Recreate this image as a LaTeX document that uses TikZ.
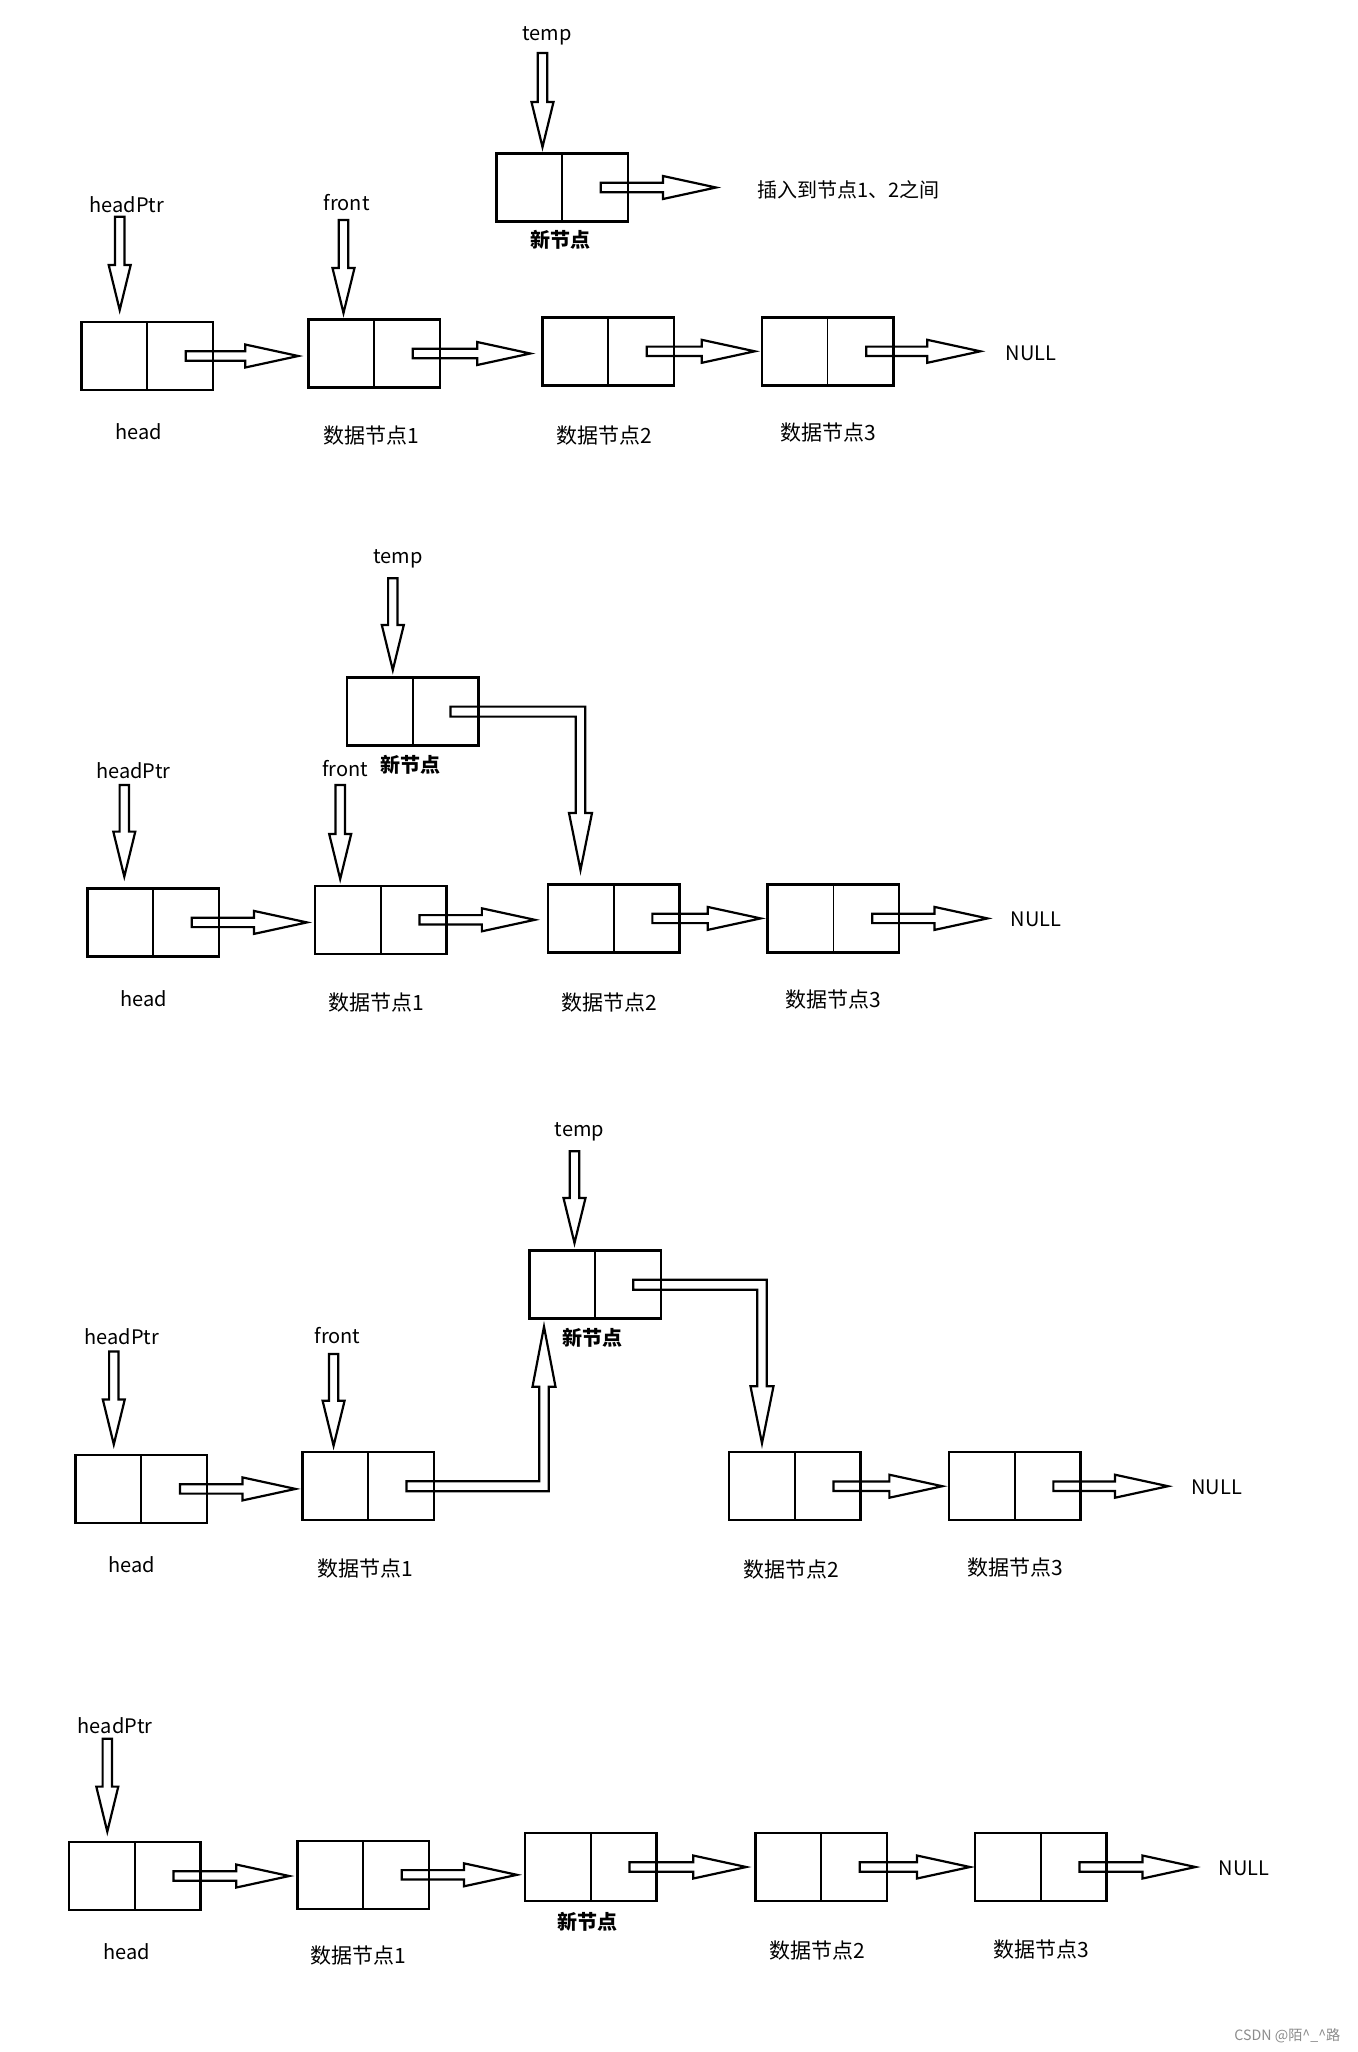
\documentclass[tikz,border=0pt]{standalone}
\usepackage{fontspec}
\setmainfont{Noto Sans CJK SC}
\usetikzlibrary{calc}
\tikzset{
  box/.style={draw, line width=1.25pt, minimum width=65.75pt, minimum height=34pt, inner sep=0pt, outer sep=0pt},
  divline/.style={line width=0.9pt},
  arrline/.style={line width=1.1pt, line join=miter},
  lbl/.style={inner sep=0pt, font=\fontsize{10}{12}\selectfont},
  dlbl/.style={inner sep=0pt, font=\fontsize{10.5}{12}\selectfont},
  blbl/.style={inner sep=0pt, font=\fontsize{10}{12}\selectfont\bfseries},
  wm/.style={inner sep=0pt, text=black!45, font=\fontsize{7.1}{8}\selectfont},
}
% horizontal hollow arrow: start, tip
\newcommand\harr[2]{\draw[arrline] ($(#1)+(0,-4.7)$) -- ($(#2)+(-53,-4.7)$) -- ($(#2)+(-53,-11.5)$) -- (#2) -- ($(#2)+(-53,11.5)$) -- ($(#2)+(-53,4.7)$) -- ($(#1)+(0,4.7)$) -- cycle;}
% downward hollow arrow: start (top), tip
\newcommand\darr[2]{\draw[arrline] ($(#1)+(-4.7,0)$) -- ($(#2)+(-4.7,-45)$) -- ($(#2)+(-11,-45)$) -- (#2) -- ($(#2)+(11,-45)$) -- ($(#2)+(4.7,-45)$) -- ($(#1)+(4.7,0)$) -- cycle;}
% right then down
\newcommand\bdarr[2]{\draw[arrline] ($(#1)+(0,-5)$) -- ($(#1 -| #2)+(4.7,-5)$) -- ($(#2)+(4.7,-57)$) -- ($(#2)+(11.5,-57)$) -- (#2) -- ($(#2)+(-11.5,-57)$) -- ($(#2)+(-4.7,-57)$) -- ($(#1 -| #2)+(-4.7,5)$) -- ($(#1)+(0,5)$) -- cycle;}
% right then up
\newcommand\buarr[2]{\draw[arrline] ($(#1)+(0,5)$) -- ($(#1 -| #2)+(4.7,5)$) -- ($(#2)+(4.7,60)$) -- ($(#2)+(11.5,60)$) -- (#2) -- ($(#2)+(-11.5,60)$) -- ($(#2)+(-4.7,60)$) -- ($(#1 -| #2)+(-4.7,-5)$) -- ($(#1)+(0,-5)$) -- cycle;}
% a two-field list cell
\newcommand\cell[2]{\node[box] (#1) at (#2) {}; \draw[divline] (#1.north) -- (#1.south);}
% link from one cell to the next node
\newcommand\link[3]{\coordinate (#1S) at ($(#1.east)+(-27,0)$);
  \coordinate (#1T) at ($(#1S -| #2.west)+(-#3,0)$);
  \harr{#1S}{#1T}}
% pointer arrow below a label
\newcommand\ptr[4]{\coordinate (#1S) at (#2,#3); \coordinate (#1T) at (#2,#4); \darr{#1S}{#1T}}

\begin{document}
\begin{tikzpicture}[x=0.5pt,y=-0.5pt]
\fill[white] (0,0) rectangle (1358,2052);
\useasboundingbox (0,0) rectangle (1358,2052);

% ---------------- panel 1 ----------------
\cell{A1h}{147,356}
\cell{A1n1}{374,353.5}
\cell{A1n2}{608,351.3}
\cell{A1n3}{827.5,351.3}
\cell{A1new}{562,187.5}
\node[lbl] (A1nul) at (1031,353) {NULL};
\node[lbl] (A1ins) at (848.5,190) {插入到节点1、2之间};
\link{A1h}{A1n1}{10}
\link{A1n1}{A1n2}{12}
\link{A1n2}{A1n3}{7}
\link{A1n3}{A1nul}{25}
\link{A1new}{A1ins}{41}
\node[lbl] (A1tmp) at (547,36) {temp};
\node[blbl] (A1newl) at (560,240) {新节点};
\node[lbl] (A1hp) at (127,205) {headPtr};
\node[lbl] (A1fr) at (346.7,203) {front};
\node[lbl] (A1hl) at (138.7,431.7) {head};
\node[dlbl] (A1l1) at (371.6,435.7) {数据节点1};
\node[dlbl] (A1l2) at (604.4,435.7) {数据节点2};
\node[dlbl] (A1l3) at (828.2,433) {数据节点3};
\ptr{A1tmp}{542.5}{53}{147}
\ptr{A1hp}{119.7}{216.7}{310}
\ptr{A1fr}{343.5}{220}{313}

% ---------------- panel 2 ----------------
\cell{B2h}{153,922.4}
\cell{B2n1}{380.7,919.8}
\cell{B2n2}{613.6,918.4}
\cell{B2n3}{833.4,918.4}
\cell{B2new}{412.8,711.6}
\node[lbl] (B2nul) at (1036.2,919.7) {NULL};
\link{B2h}{B2n1}{8}
\link{B2n1}{B2n2}{13}
\link{B2n2}{B2n3}{7}
\link{B2n3}{B2nul}{23}
\coordinate (B2newS) at ($(B2new.east)+(-28,0)$);
\coordinate (B2newT) at (580.5,870);
\bdarr{B2newS}{B2newT}
\node[lbl] (B2tmp) at (398,558.6) {temp};
\node[blbl] (B2newl) at (410.5,764.5) {新节点};
\node[lbl] (B2hp) at (133.4,770.6) {headPtr};
\node[lbl] (B2fr) at (345.2,768.5) {front};
\node[lbl] (B2hl) at (144,998.2) {head};
\node[dlbl] (B2l1) at (376.8,1002.2) {数据节点1};
\node[dlbl] (B2l2) at (609.7,1002.2) {数据节点2};
\node[dlbl] (B2l3) at (833.4,999.5) {数据节点3};
\ptr{B2tmp}{392.8}{578.3}{670}
\ptr{B2hp}{124.3}{785}{876.6}
\ptr{B2fr}{340.2}{785}{879}

% ---------------- panel 3 ----------------
\cell{C3h}{141.3,1488.9}
\cell{C3n1}{368.3,1486.2}
\cell{C3n2}{794.8,1486.2}
\cell{C3n3}{1014.6,1486.2}
\cell{C3new}{595.2,1284.7}
\node[lbl] (C3nul) at (1216.7,1487.5) {NULL};
\link{C3h}{C3n1}{7}
\link{C3n2}{C3n3}{6.5}
\link{C3n3}{C3nul}{23}
\coordinate (C3newS) at ($(C3new.east)+(-27.7,0)$);
\coordinate (C3newT) at (762,1443.3);
\bdarr{C3newS}{C3newT}
\coordinate (C3n1S) at ($(C3n1.east)+(-27.5,0)$);
\coordinate (C3n1T) at (544,1326.7);
\buarr{C3n1S}{C3n1T}
\node[lbl] (C3tmp) at (579.6,1131.7) {temp};
\node[blbl] (C3newl) at (592.5,1338) {新节点};
\node[lbl] (C3hp) at (121.7,1337) {headPtr};
\node[lbl] (C3fr) at (337.5,1335.8) {front};
\node[lbl] (C3hl) at (132.1,1564.7) {head};
\node[dlbl] (C3l1) at (365,1568.6) {数据节点1};
\node[dlbl] (C3l2) at (791.5,1570) {数据节点2};
\node[dlbl] (C3l3) at (1015.2,1567.3) {数据节点3};
\ptr{C3tmp}{574.5}{1151.3}{1243}
\ptr{C3hp}{113.8}{1351.5}{1444.4}
\ptr{C3fr}{333.6}{1354}{1445.7}

% ---------------- panel 4 ----------------
\cell{D4h}{134.8,1876}
\cell{D4n1}{363,1874.8}
\cell{D4new}{590.7,1867}
\cell{D4n2}{821,1867}
\cell{D4n3}{1040.7,1867}
\node[lbl] (D4nul) at (1244.2,1868.3) {NULL};
\link{D4h}{D4n1}{8}
\link{D4n1}{D4new}{8}
\link{D4new}{D4n2}{9}
\link{D4n2}{D4n3}{5}
\link{D4n3}{D4nul}{23}
\node[lbl] (D4hp) at (115.1,1725.6) {headPtr};
\node[blbl] (D4newl) at (587.4,1921.9) {新节点};
\node[lbl] (D4hl) at (126.9,1952) {head};
\node[dlbl] (D4l1) at (358.5,1955.9) {数据节点1};
\node[dlbl] (D4l2) at (817.7,1950.7) {数据节点2};
\node[dlbl] (D4l3) at (1041.4,1949.4) {数据节点3};
\ptr{D4hp}{107.3}{1738.7}{1831.6}

% watermark
\node[wm] (wmark) at (1287.4,2035.7) {CSDN @陌\textasciicircum\_\textasciicircum 路};
\end{tikzpicture}
\end{document}
